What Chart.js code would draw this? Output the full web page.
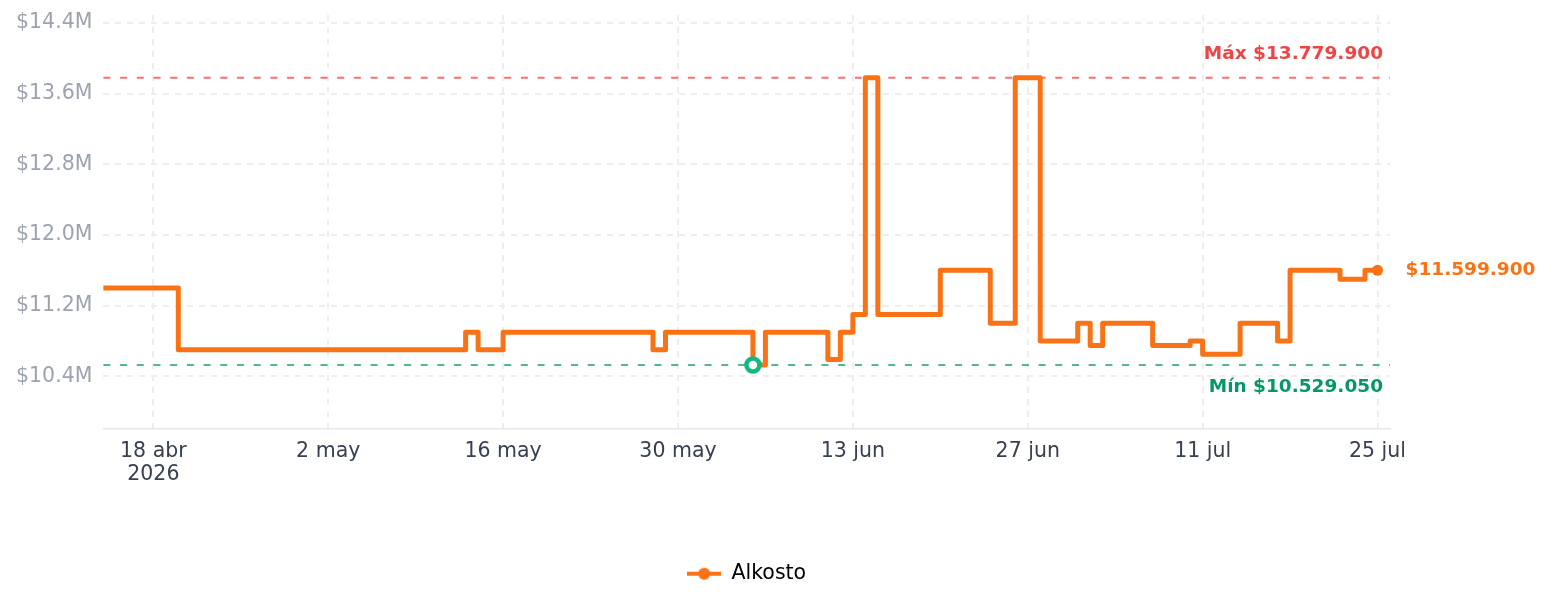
<!DOCTYPE html>
<html lang="es">
<head>
<meta charset="utf-8">
<title>Historial de precio - Alkosto</title>
<script src="https://cdn.jsdelivr.net/npm/chart.js@4.4.1/dist/chart.umd.min.js"></script>
<style>
    html, body { margin: 0; padding: 0; background: #fff; }
    #wrap { position: relative; width: 1550px; height: 607px; }
</style>
</head>
<body>
<div id="wrap"><canvas id="priceChart" width="1550" height="607"></canvas></div>
<script>
// Price history (each price holds until the next date)
const fechas = [
    '2026-04-14', '2026-04-20', '2026-05-13', '2026-05-14', '2026-05-16',
    '2026-05-28', '2026-05-29', '2026-06-05', '2026-06-06', '2026-06-11',
    '2026-06-12', '2026-06-13', '2026-06-14', '2026-06-15', '2026-06-20',
    '2026-06-24', '2026-06-26', '2026-06-28', '2026-07-01', '2026-07-02',
    '2026-07-03', '2026-07-07', '2026-07-10', '2026-07-11', '2026-07-14',
    '2026-07-17', '2026-07-18', '2026-07-22', '2026-07-24', '2026-07-25'
];
const precios = [
    11399900, 10699900, 10899900, 10699900, 10899900,
    10699900, 10899900, 10529050, 10899900, 10589900,
    10899900, 11099900, 13779900, 11099900, 11599900,
    10999900, 13779900, 10799900, 10999900, 10749900,
    10999900, 10749900, 10799900, 10649900, 10999900,
    10799900, 11599900, 11499900, 11599900, 11599900
];
const tienda = 'Alkosto';

const fechasTicks = ['2026-04-18', '2026-05-02', '2026-05-16', '2026-05-30',
                     '2026-06-13', '2026-06-27', '2026-07-11', '2026-07-25'];
const etiquetasTicks = [['18 abr', '2026'], '2 may', '16 may', '30 may',
                        '13 jun', '27 jun', '11 jul', '25 jul'];
const preciosTicks = [10400000, 11200000, 12000000, 12800000, 13600000, 14400000];
const rangoFechas = ['2026-04-14', '2026-07-26'];
const rangoPrecios = [9810000, 14490000];

const NARANJA = '#f97316';

// days counted from the first tick date
function dia(str) {
    const [a, m, d] = str.split('-').map(Number);
    return (Date.UTC(a, m - 1, d) - Date.UTC(2026, 3, 18)) / 86400000;
}

function pesos(n) {
    return '$' + String(Math.round(n)).replace(/\B(?=(\d{3})+(?!\d))/g, '.');
}

const puntos = fechas.map((f, i) => ({ x: dia(f), y: precios[i] }));
const diasTicks = fechasTicks.map(dia);
const maxPrecio = Math.max(...precios);
const minPrecio = Math.min(...precios);
const idxMin = precios.indexOf(minPrecio);
const idxUltimo = precios.length - 1;

function marcadorLeyenda(color) {
    const c = document.createElement('canvas');
    c.width = 34;
    c.height = 14;
    const g = c.getContext('2d');
    g.strokeStyle = color;
    g.lineWidth = 4;
    g.beginPath();
    g.moveTo(0, 7);
    g.lineTo(34, 7);
    g.stroke();
    g.fillStyle = color;
    g.beginPath();
    g.arc(17, 7, 6, 0, Math.PI * 2);
    g.fill();
    return c;
}

// Max / min reference lines and value labels
const lineasRef = {
    id: 'lineasRef',
    beforeDatasetsDraw(chart) {
        const { ctx, chartArea, scales: { y } } = chart;
        [[maxPrecio, '#f87171'], [minPrecio, 'rgba(16,163,110,0.75)']].forEach(([v, color]) => {
            const py = y.getPixelForValue(v);
            ctx.save();
            ctx.strokeStyle = color;
            ctx.lineWidth = 2;
            ctx.setLineDash([7, 9.7]);
            ctx.beginPath();
            ctx.moveTo(chartArea.left, py);
            ctx.lineTo(chartArea.right, py);
            ctx.stroke();
            ctx.restore();
        });
    },
    afterDatasetsDraw(chart) {
        const { ctx, chartArea, scales: { x, y } } = chart;
        ctx.save();
        ctx.font = 'bold 18.5px "DejaVu Sans"';
        ctx.textBaseline = 'middle';

        ctx.textAlign = 'right';
        ctx.fillStyle = '#ef4444';
        ctx.fillText('Máx ' + pesos(maxPrecio), chartArea.right - 7, y.getPixelForValue(maxPrecio) - 24);
        ctx.fillStyle = '#059669';
        ctx.fillText('Mín ' + pesos(minPrecio), chartArea.right - 7, y.getPixelForValue(minPrecio) + 22);

        const ult = puntos[idxUltimo];
        ctx.textAlign = 'left';
        ctx.fillStyle = NARANJA;
        ctx.fillText(pesos(ult.y), x.getPixelForValue(ult.x) + 28, y.getPixelForValue(ult.y));
        ctx.restore();
    }
};

Chart.defaults.font.family = '"DejaVu Sans", sans-serif';

const ctx = document.getElementById('priceChart').getContext('2d');
const priceChart = new Chart(ctx, {
    type: 'line',
    data: {
        datasets: [{
            label: tienda,
            data: puntos,
            borderColor: NARANJA,
            backgroundColor: NARANJA,
            borderWidth: 5,
            stepped: true,
            tension: 0,
            fill: false,
            borderJoinStyle: 'round',
            borderCapStyle: 'round',
            pointRadius: c => c.dataIndex === idxMin ? 6.5 : (c.dataIndex === idxUltimo ? 5.5 : 0),
            pointBackgroundColor: c => c.dataIndex === idxMin ? '#ffffff' : NARANJA,
            pointBorderColor: c => c.dataIndex === idxMin ? '#10b981' : NARANJA,
            pointBorderWidth: c => c.dataIndex === idxMin ? 4.5 : 0
        }]
    },
    options: {
        responsive: false,
        animation: false,
        layout: {
            padding: { left: 5, right: 160, top: 15, bottom: 13 }
        },
        scales: {
            x: {
                type: 'linear',
                min: dia(rangoFechas[0]),
                max: dia(rangoFechas[1]),
                afterBuildTicks: scale => {
                    scale.ticks = diasTicks.map(v => ({ value: v }));
                },
                afterFit: scale => {
                    scale.height = 125;
                },
                ticks: {
                    color: '#374151',
                    font: { size: 20.5, lineHeight: 1.12 },
                    padding: 12,
                    maxRotation: 0,
                    autoSkip: false,
                    callback: v => {
                        const i = diasTicks.indexOf(v);
                        return i >= 0 ? etiquetasTicks[i] : '';
                    }
                },
                grid: {
                    color: '#eeeeee',
                    lineWidth: 2,
                    drawTicks: false
                },
                border: {
                    display: true,
                    color: '#e5e7eb',
                    width: 1.5,
                    dash: [6, 6]
                }
            },
            y: {
                min: rangoPrecios[0],
                max: rangoPrecios[1],
                afterBuildTicks: scale => {
                    scale.ticks = preciosTicks.map(v => ({ value: v }));
                },
                afterFit: scale => {
                    scale.paddingTop = 0;
                    scale.paddingBottom = 0;
                },
                ticks: {
                    color: '#9ca3af',
                    font: { size: 20.5 },
                    padding: 11,
                    callback: v => '$' + (v / 1e6).toFixed(1) + 'M'
                },
                grid: {
                    color: '#eeeeee',
                    lineWidth: 2,
                    drawTicks: false
                },
                border: {
                    display: false,
                    dash: [6, 6]
                }
            }
        },
        plugins: {
            legend: {
                position: 'bottom',
                fullSize: false,
                labels: {
                    color: '#111111',
                    font: { size: 20.5 },
                    padding: 10,
                    usePointStyle: true,
                    pointStyleWidth: 34,
                    generateLabels: chart => chart.data.datasets.map((ds, i) => ({
                        text: ds.label,
                        pointStyle: marcadorLeyenda(ds.borderColor),
                        fillStyle: ds.borderColor,
                        strokeStyle: ds.borderColor,
                        lineWidth: 0,
                        hidden: false,
                        datasetIndex: i
                    }))
                }
            },
            tooltip: { enabled: false }
        }
    },
    plugins: [lineasRef]
});
</script>
</body>
</html>
